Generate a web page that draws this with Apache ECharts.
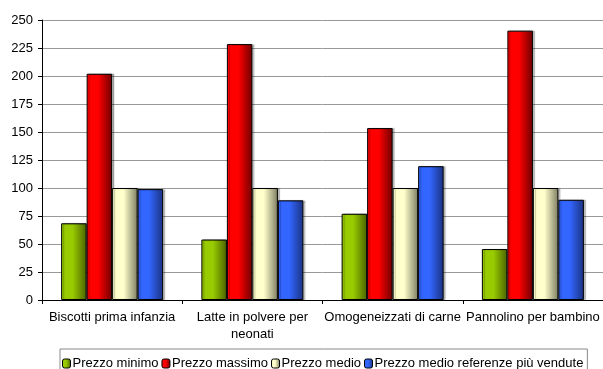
<!DOCTYPE html>
<html>
<head>
<meta charset="utf-8">
<script src="https://cdn.jsdelivr.net/npm/echarts@6/dist/echarts.min.js"></script>
<style>
  html, body { margin: 0; padding: 0; background: #fff; }
  #chart { width: 603px; height: 369px; }
</style>
</head>
<body>
<div id="chart"></div>
<script>
// Categories and series values
const categories = ['Biscotti prima infanzia', 'Latte in polvere per\nneonati', 'Omogeneizzati di carne', 'Pannolino per bambino'];
const prezzoMinimo = [68.5, 54, 77, 45.5];
const prezzoMassimo = [202, 228.5, 153.5, 240.5];
const prezzoMedio = [100, 100, 100, 100];
const prezzoMedioPiuVendute = [99, 89, 119.5, 89.5];
const seriesNames = ['Prezzo minimo', 'Prezzo massimo', 'Prezzo medio', 'Prezzo medio referenze più vendute'];
const yTicks = { min: 0, max: 250, interval: 25 };

// Horizontal gradients: bright on the left, darker on the right
function grad(light, dark) {
  return new echarts.graphic.LinearGradient(0, 0, 1, 0, [
    { offset: 0, color: light },
    { offset: 0.45, color: light },
    { offset: 1, color: dark }
  ]);
}
const fills = [
  grad('#99cc00', '#4a6300'),
  grad('#ff0000', '#6e0000'),
  grad('#ffffcc', '#7d7d62'),
  grad('#3366ff', '#1a3280')
];

const values = [prezzoMinimo, prezzoMassimo, prezzoMedio, prezzoMedioPiuVendute];

const chart = echarts.init(document.getElementById('chart'), null, { renderer: 'canvas' });
chart.setOption({
  animation: false,
  textStyle: { fontFamily: 'Liberation Sans, Arial, sans-serif' },
  grid: { left: 42, right: 0, top: 20, bottom: 69, containLabel: false },
  legend: {
    bottom: -8,
    left: 60,
    itemWidth: 8,
    itemHeight: 9,
    itemGap: 3,
    padding: [8, 4, 7, 2],
    borderColor: '#888',
    borderWidth: 1,
    textStyle: { fontSize: 13, color: '#000', padding: [0, 0, 0, -3] },
    data: seriesNames.map((n, i) => ({ name: n, itemStyle: { color: fills[i], borderColor: '#000', borderWidth: 1 } }))
  },
  xAxis: {
    type: 'category',
    data: categories,
    axisLine: { lineStyle: { color: '#000', width: 1 } },
    axisTick: { show: true, alignWithLabel: false, length: 4, lineStyle: { color: '#000' } },
    axisLabel: { interval: 0, fontSize: 13, color: '#000', margin: 9, lineHeight: 17 }
  },
  yAxis: {
    type: 'value',
    min: yTicks.min,
    max: yTicks.max,
    interval: yTicks.interval,
    axisLine: { show: true, lineStyle: { color: '#000', width: 1 } },
    axisTick: { show: true, length: 4, lineStyle: { color: '#000' } },
    axisLabel: { fontSize: 13, color: '#000', margin: 9 },
    splitLine: { lineStyle: { color: '#999', width: 1 } }
  },
  series: seriesNames.map((name, i) => ({
    name: name,
    type: 'bar',
    data: values[i],
    barWidth: 25.5,
    barGap: '0%',
    itemStyle: {
      color: fills[i],
      borderColor: '#000',
      borderWidth: 1,
      shadowColor: 'rgba(0,0,0,0.25)',
      shadowOffsetX: 2,
      shadowBlur: 1
    }
  }))
});
</script>
</body>
</html>
